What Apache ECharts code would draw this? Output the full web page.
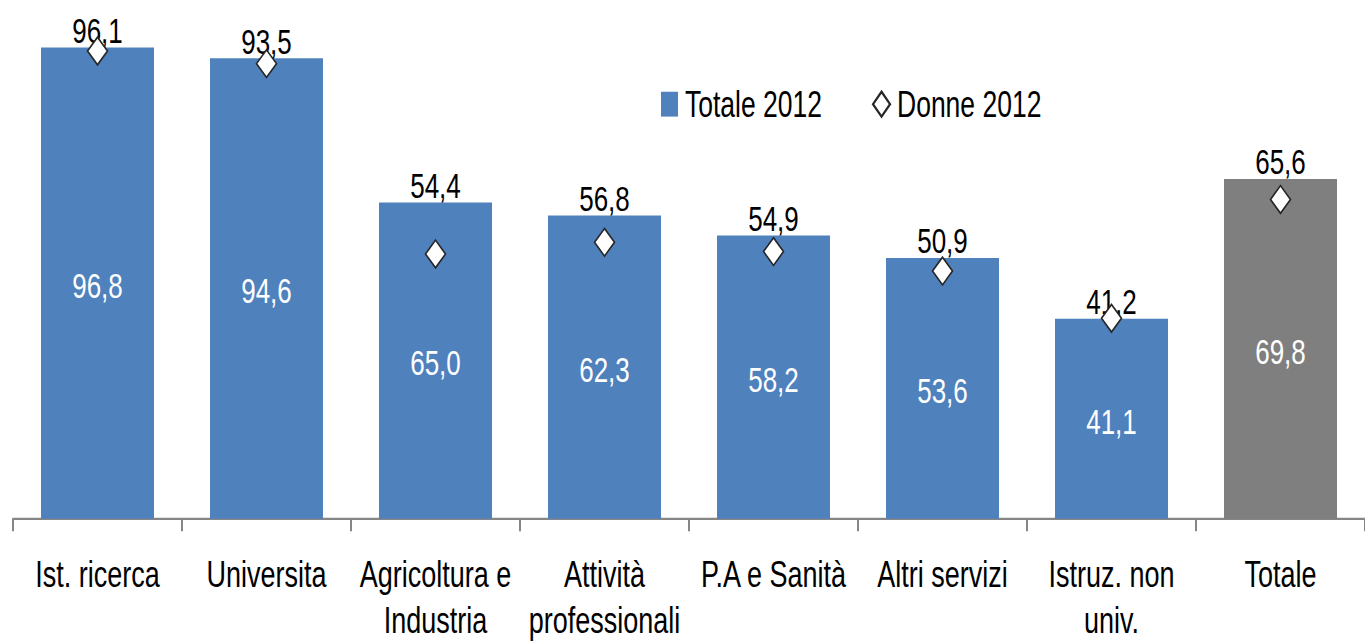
<!DOCTYPE html>
<html>
<head>
<meta charset="utf-8">
<script src="https://cdn.jsdelivr.net/npm/echarts@6/dist/echarts.min.js"></script>
<style>
  html, body { margin: 0; padding: 0; background: #fff; }
  #wrap { width: 1365px; height: 643px; position: relative; }
  /* the original picture is stretched vertically: reproduce it */
  #chart { position: absolute; left: 0; top: 0; width: 1365px; height: 466px; transform: scaleY(1.3798); transform-origin: 0 0; }
</style>
</head>
<body>
<div id="wrap"><div id="chart"></div></div>
<script>
  const categories = [
    "Ist. ricerca",
    "Universita",
    "Agricoltura e\nIndustria",
    "Attività\nprofessionali",
    "P.A e Sanità",
    "Altri servizi",
    "Istruz. non\nuniv.",
    "Totale",
  ];
  const totale2012 = [96.8, 94.6, 65.0, 62.3, 58.2, 53.6, 41.1, 69.8];
  const donne2012 = [96.1, 93.5, 54.4, 56.8, 54.9, 50.9, 41.2, 65.6];

  const FONT = '"Liberation Sans", Arial, sans-serif';
  const fmt = v => v.toFixed(1).replace(".", ",");

  const chart = echarts.init(document.getElementById("chart"), null, { renderer: "svg" });

  const option = {
    animation: false,
    textStyle: { fontFamily: FONT },
    legend: {
      left: 656,
      top: 57,
      itemGap: 50,
      itemWidth: 17,
      itemHeight: 18,
      data: [{ name: "Totale 2012", icon: "rect" }, { name: "Donne 2012" }],
      textStyle: { fontFamily: FONT, fontSize: 26.5, color: "#000", padding: [0, 0, 0, 2] },
    },
    grid: {
      left: 13,
      width: 1362,
      top: 23.2,
      bottom: 90,
    },
    xAxis: {
      type: "category",
      data: categories,
      axisLine: { lineStyle: { color: "#868686", width: 1.6 } },
      axisTick: { show: true, length: 9, lineStyle: { color: "#868686", width: 2 } },
      axisLabel: {
        color: "#000",
        fontFamily: FONT,
        fontSize: 27,
        lineHeight: 33,
        margin: 24,
        interval: 0,
      },
    },
    yAxis: {
      type: "value",
      min: 0,
      max: 100,
      show: false,
    },
    series: [
      {
        name: "Totale 2012",
        type: "bar",
        barWidth: 113,
        itemStyle: { color: "#4F81BD" },
        data: totale2012.map((v, i) => ({
          value: v,
          itemStyle: i === totale2012.length - 1 ? { color: "#7F7F7F" } : undefined,
        })),
        label: {
          show: true,
          position: "inside",
          offset: [0, 2],
          color: "#fff",
          fontFamily: FONT,
          fontSize: 26,
          formatter: p => fmt(p.value),
        },
      },
      {
        // barra invisibile per le etichette "Donne" sopra le colonne
        name: "etichette",
        type: "bar",
        barWidth: 113,
        barGap: "-100%",
        silent: true,
        itemStyle: { color: "rgba(0,0,0,0)" },
        data: totale2012,
        label: {
          show: true,
          position: "top",
          distance: 0,
          offset: [0, 1],
          color: "#000",
          fontFamily: FONT,
          fontSize: 26,
          formatter: p => fmt(donne2012[p.dataIndex]),
        },
        z: 3,
      },
      {
        name: "Donne 2012",
        type: "scatter",
        symbol: "diamond",
        symbolSize: [20, 20],
        itemStyle: { color: "#ffffff", opacity: 1, borderColor: "#262626", borderWidth: 1.4 },
        data: donne2012,
        z: 5,
      },
    ],
  };

  chart.setOption(option);
</script>
</body>
</html>
